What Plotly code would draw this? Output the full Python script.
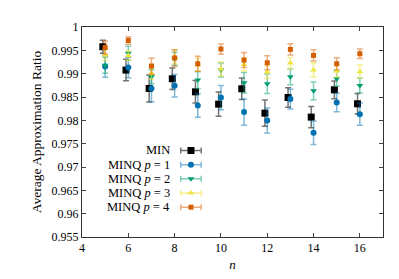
import plotly.graph_objects as go

n_vals = [5, 6, 7, 8, 9, 10, 11, 12, 13, 14, 15, 16]

min_mean = [0.99577, 0.99077, 0.98683, 0.98891, 0.98611, 0.98347, 0.98676, 0.98154, 0.98489, 0.98069, 0.98654, 0.98354]
min_err = [0.0014, 0.0023, 0.0029, 0.0023, 0.0024, 0.0026, 0.0023, 0.0028, 0.0021, 0.0023, 0.0019, 0.0022]

p1_mean = [0.99155, 0.99133, 0.98680, 0.98740, 0.98318, 0.98489, 0.98176, 0.97996, 0.98455, 0.97732, 0.98382, 0.98133]
p1_err = [0.0023, 0.0022, 0.0028, 0.0024, 0.0025, 0.0026, 0.0028, 0.0027, 0.0021, 0.0025, 0.0020, 0.0024]

p2_mean = [0.99180, 0.99440, 0.98933, 0.99320, 0.98863, 0.99080, 0.98805, 0.98783, 0.98933, 0.98633, 0.98891, 0.98747]
p2_err = [0.0017, 0.0015, 0.0015, 0.0014, 0.0018, 0.0015, 0.0022, 0.0021, 0.0017, 0.0019, 0.0016, 0.0016]

p3_mean = [0.99400, 0.99390, 0.99004, 0.99360, 0.99190, 0.99100, 0.99197, 0.99034, 0.99227, 0.99077, 0.99056, 0.99041]
p3_err = [0.0012, 0.0010, 0.0012, 0.0015, 0.0014, 0.0015, 0.0014, 0.0014, 0.0012, 0.0015, 0.0013, 0.0014]

p4_mean = [0.99560, 0.99713, 0.99163, 0.99335, 0.99212, 0.99528, 0.99292, 0.99234, 0.99520, 0.99391, 0.99212, 0.99427]
p4_err = [0.0014, 0.0008, 0.0017, 0.0018, 0.0016, 0.0011, 0.0016, 0.0015, 0.0012, 0.0012, 0.0013, 0.0010]

series_names = ["MIN", "MINQ <i>p</i> = 1", "MINQ <i>p</i> = 2", "MINQ <i>p</i> = 3", "MINQ <i>p</i> = 4"]

x_ticks = [4, 6, 8, 10, 12, 14, 16]
y_ticks = [0.955, 0.96, 0.965, 0.97, 0.975, 0.98, 0.985, 0.99, 0.995, 1.0]
y_tick_labels = ["0.955", "0.96", "0.965", "0.97", "0.975", "0.98", "0.985", "0.99", "0.995", "1"]

FONT = "Liberation Serif"

styles = [
    dict(color="#000000", err="rgba(70,70,70,0.75)", symbol="square", size=7, dx=-0.1),
    dict(color="#0072B2", err="rgba(0,114,178,0.5)", symbol="circle", size=6, dx=0.0),
    dict(color="#009E73", err="rgba(0,158,115,0.5)", symbol="triangle-down", size=6, dx=0.0),
    dict(color="#F0E442", err="rgba(240,228,66,0.6)", symbol="triangle-up", size=6, dx=0.0),
    dict(color="#D55E00", err="rgba(213,94,0,0.5)", symbol="square", size=5, dx=0.0),
]
means = [min_mean, p1_mean, p2_mean, p3_mean, p4_mean]
errs = [min_err, p1_err, p2_err, p3_err, p4_err]

fig = go.Figure()
for name, m, e, st in zip(series_names, means, errs, styles):
    fig.add_trace(go.Scatter(
        x=[v + st["dx"] for v in n_vals], y=m, mode="markers", name=name,
        marker=dict(symbol=st["symbol"], size=st["size"], color=st["color"], line=dict(width=0)),
        error_y=dict(type="data", array=e, visible=True, color=st["err"], thickness=1.5, width=3),
        showlegend=False, xaxis="x", yaxis="y",
    ))

# custom gnuplot-style legend (text right, sample on the right)
leg_text_x = 0.298
leg_sample_x = 0.362
leg_half = 0.034
leg_y0 = 0.412
leg_dy = 0.0675
for i, (name, st) in enumerate(zip(series_names, styles)):
    yy = leg_y0 - i * leg_dy
    fig.add_trace(go.Scatter(
        x=[leg_sample_x], y=[yy], mode="markers",
        marker=dict(symbol=st["symbol"], size=st["size"], color=st["color"], line=dict(width=0)),
        error_x=dict(type="data", array=[leg_half], visible=True, color=st["err"], thickness=1.5, width=3),
        showlegend=False, xaxis="x2", yaxis="y2", hoverinfo="skip",
    ))
    fig.add_annotation(x=leg_text_x, y=yy, xref="x2", yref="y2", text=name, showarrow=False,
                       xanchor="right", yanchor="middle", font=dict(family=FONT, size=12.5, color="#000"))

fig.update_layout(
    width=399, height=279,
    margin=dict(l=74, r=24, t=19, b=50, autoexpand=False),
    paper_bgcolor="white", plot_bgcolor="white",
    font=dict(family=FONT, size=12, color="#000"),
    xaxis=dict(range=[4, 17], tickvals=x_ticks, ticks="inside", ticklen=4, tickcolor="#444",
               showline=True, linecolor="#333", linewidth=1, mirror="ticks", showgrid=False, zeroline=False,
               automargin=False,
               title=dict(text="<i>n</i>", font=dict(family=FONT, size=13), standoff=5),
               tickfont=dict(family=FONT, size=12)),
    yaxis=dict(range=[0.955, 1.0], tickvals=y_ticks, ticktext=y_tick_labels, ticks="inside", ticklen=4,
               tickcolor="#444", showline=True, linecolor="#333", linewidth=1, mirror="ticks",
               showgrid=False, zeroline=False, automargin=False,
               title=dict(text="Average Approximation Ratio", font=dict(family=FONT, size=13.5), standoff=6),
               tickfont=dict(family=FONT, size=12)),
    xaxis2=dict(range=[0, 1], overlaying="x", visible=False, showgrid=False, zeroline=False),
    yaxis2=dict(range=[0, 1], overlaying="y", visible=False, showgrid=False, zeroline=False),
    showlegend=False,
)

fig.write_html("out.html")
